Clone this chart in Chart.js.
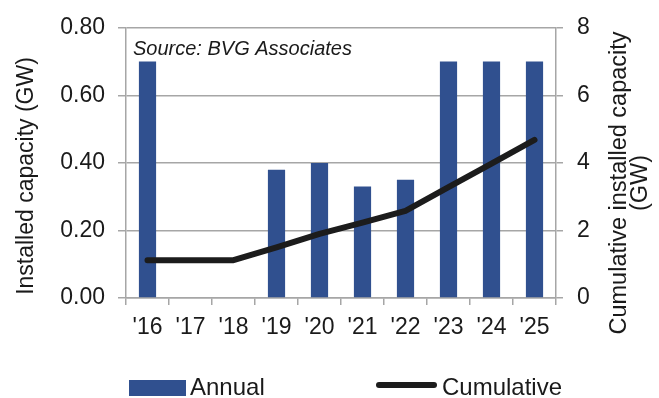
<!DOCTYPE html>
<html>
<head>
<meta charset="utf-8">
<script src="https://cdn.jsdelivr.net/npm/chart.js@4.4.1/dist/chart.umd.min.js"></script>
<style>
  html, body { margin: 0; padding: 0; background: #fff; }
  #chart { display: block; }
</style>
</head>
<body>
<canvas id="chart" width="659" height="398"></canvas>
<script>
const years = ["'16", "'17", "'18", "'19", "'20", "'21", "'22", "'23", "'24", "'25"];
const annual = [0.70, 0, 0, 0.38, 0.40, 0.33, 0.35, 0.70, 0.70, 0.70];
const cumulative = [1.12, 1.12, 1.12, 1.50, 1.90, 2.23, 2.58, 3.28, 3.98, 4.68];
const leftTicks = [0, 0.2, 0.4, 0.6, 0.8];
const rightTicks = [0, 2, 4, 6, 8];

const leftTitle = 'Installed capacity (GW)';
const rightTitle = ['Cumulative installed capacity', '(GW)'];
const sourceNote = 'Source: BVG Associates';

const FONT = '"Liberation Sans", Arial, sans-serif';
const TEXT = '#1a1a1a';
const GRID = '#a6a6a6';
const BAR = '#30508f';
const LINE = '#1c1c1c';

// titles, source note and legend are painted by hand
const decorations = {
  id: 'decorations',
  afterDraw(chart) {
    const ctx = chart.ctx;
    const area = chart.chartArea;
    ctx.save();
    ctx.fillStyle = TEXT;
    ctx.textBaseline = 'middle';

    ctx.font = 'italic 20px ' + FONT;
    ctx.textAlign = 'left';
    ctx.fillText(sourceNote, area.left + 7, area.top + 22);

    // both axis titles read bottom to top
    ctx.font = '23px ' + FONT;
    ctx.textAlign = 'center';
    ctx.save();
    ctx.translate(27, 176);
    ctx.rotate(-Math.PI / 2);
    ctx.fillText(leftTitle, 0, 0);
    ctx.restore();

    ctx.font = '23.5px ' + FONT;
    ctx.save();
    ctx.translate(620, 183);
    ctx.rotate(-Math.PI / 2);
    rightTitle.forEach((line, i) => ctx.fillText(line, 0, i * 21));
    ctx.restore();

    // legend
    const bars = chart.data.datasets[0];
    const line = chart.data.datasets[1];
    const ly = 388;
    ctx.font = '24px ' + FONT;
    ctx.textAlign = 'left';
    ctx.fillStyle = bars.backgroundColor;
    ctx.fillRect(129, ly - 8, 57, 16);
    ctx.fillStyle = TEXT;
    ctx.fillText(bars.label, 190, ly);

    ctx.strokeStyle = line.borderColor;
    ctx.lineWidth = 6;
    ctx.lineCap = 'round';
    ctx.beginPath();
    ctx.moveTo(379, ly - 3);
    ctx.lineTo(434, ly - 3);
    ctx.stroke();
    ctx.fillText(line.label, 442, ly);
    ctx.restore();
  }
};

new Chart(document.getElementById('chart'), {
  data: {
    labels: years,
    datasets: [
      {
        type: 'bar',
        label: 'Annual',
        data: annual,
        backgroundColor: BAR,
        barPercentage: 0.4,
        categoryPercentage: 1,
        yAxisID: 'y',
        order: 1
      },
      {
        type: 'line',
        label: 'Cumulative',
        data: cumulative,
        borderColor: LINE,
        borderWidth: 6,
        borderCapStyle: 'round',
        borderJoinStyle: 'round',
        pointRadius: 0,
        tension: 0,
        yAxisID: 'y1',
        order: 0
      }
    ]
  },
  options: {
    responsive: false,
    devicePixelRatio: 1,
    animation: false,
    layout: { padding: { top: 25, left: 0, right: 0, bottom: 0 } },
    plugins: {
      legend: { display: false },
      tooltip: { enabled: false }
    },
    scales: {
      x: {
        afterFit: (s) => { s.height = 100; },
        grid: { drawOnChartArea: false, offset: true, tickLength: 7, color: GRID, lineWidth: 1.5 },
        border: { color: GRID, width: 1.5 },
        ticks: { color: TEXT, font: { family: FONT, size: 23 }, padding: 9, maxRotation: 0 }
      },
      y: {
        position: 'left',
        min: leftTicks[0],
        max: leftTicks[leftTicks.length - 1],
        afterFit: (s) => { s.width = 126; },
        afterBuildTicks: (s) => { s.ticks = leftTicks.map(v => ({ value: v })); },
        grid: { tickLength: 8, color: GRID, lineWidth: 1.5 },
        border: { color: GRID, width: 1.5 },
        ticks: {
          color: TEXT, font: { family: FONT, size: 23 }, padding: 13,
          callback: (v) => v.toFixed(2)
        }
      },
      y1: {
        position: 'right',
        min: rightTicks[0],
        max: rightTicks[rightTicks.length - 1],
        afterFit: (s) => { s.width = 103; },
        afterBuildTicks: (s) => { s.ticks = rightTicks.map(v => ({ value: v })); },
        grid: { drawOnChartArea: false, tickLength: 7, color: GRID, lineWidth: 1.5 },
        border: { color: GRID, width: 1.5 },
        ticks: { color: TEXT, font: { family: FONT, size: 23 }, padding: 14 }
      }
    }
  },
  plugins: [decorations]
});
</script>
</body>
</html>
